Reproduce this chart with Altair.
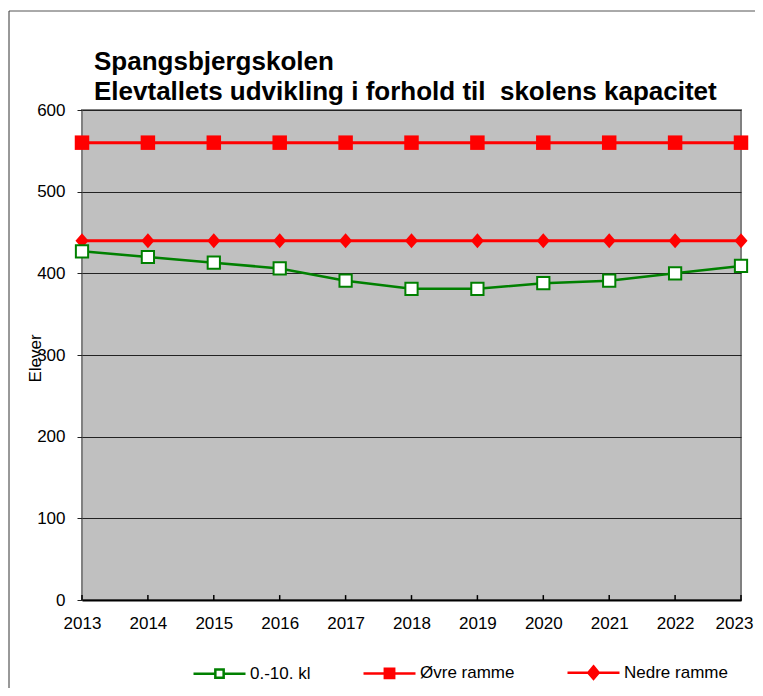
import altair as alt
import pandas as pd

# ---- data ----
years = [2013, 2014, 2015, 2016, 2017, 2018, 2019, 2020, 2021, 2022, 2023]
elever = [427, 420, 413, 406, 391, 381, 381, 388, 391, 400, 409]
ovre_ramme = [560, 560, 560, 560, 560, 560, 560, 560, 560, 560, 560]
nedre_ramme = [440, 440, 440, 440, 440, 440, 440, 440, 440, 440, 440]
series_names = ["0.-10. kl", "Øvre ramme", "Nedre ramme"]
y_ticks = [0, 100, 200, 300, 400, 500, 600]
title_lines = ["Spangsbjergskolen", "Elevtallets udvikling i forhold til\u00a0 skolens kapacitet"]
y_title = "Elever"

# ---- styles ----
FONT = "Liberation Sans"
GREEN = "#008000"
RED = "#FF0000"
series_colors = [GREEN, RED, RED]
legend_fills = ["white", RED, RED]
legend_paths = [
    "M-1,0H-0.16M0.16,0H1M-0.16,-0.16H0.16V0.16H-0.16Z",
    "M-1,0H1M-0.18,-0.18H0.18V0.18H-0.18Z",
    "M-1,0H1M0,-0.24L0.2,0L0,0.24L-0.2,0Z",
]
DIAMOND = "M0,-1L0.87,0L0,1L-0.87,0Z"

df_el = pd.DataFrame({"year": years, "value": elever})
df_ov = pd.DataFrame({"year": years, "value": ovre_ramme})
df_ne = pd.DataFrame({"year": years, "value": nedre_ramme})
df_ticks = pd.DataFrame({"year": years})
df_leg = pd.DataFrame({"lg": series_names, "year": [years[0]] * 3, "value": [0] * 3})

x_scale = alt.Scale(domain=[years[0], years[-1]], nice=False, zero=False)
y_scale = alt.Scale(domain=[0, 600], nice=False)

x_axis = alt.Axis(
    values=years, format="d", title=None, grid=False, ticks=False,
    labelFontSize=17, labelFont=FONT, labelColor="black", labelPadding=15,
    labelFlush=False, labelOverlap=False, domainColor="black", domainWidth=2,
    labelOffset={"condition": {"test": f"datum.value == {years[-1]}", "value": -7}, "value": 0},
)
y_axis = alt.Axis(
    values=y_ticks, title=y_title, grid=True, gridColor="#222222", gridWidth=1,
    tickSize=5, tickColor="#222222", tickWidth=1, domain=False,
    labelFontSize=17, labelFont=FONT, labelColor="black", labelPadding=12,
    titleFontSize=17, titleFont=FONT, titleFontWeight="normal", titleColor="black",
    titleX=-42, titleY=248, titleBaseline="alphabetic", titleAlign="center", titleAngle=270,
)

X = alt.X("year:Q", scale=x_scale, axis=x_axis)
Y = alt.Y("value:Q", scale=y_scale, axis=y_axis)

one = alt.Data(values=[{"a": 1}])
frame_top = alt.Chart(one).mark_rule(color="#555555", strokeWidth=1).encode(
    x=alt.value(-73), x2=alt.value(720), y=alt.value(-99)
)
frame_left = alt.Chart(one).mark_rule(color="#333333", strokeWidth=1).encode(
    x=alt.value(-73), y=alt.value(-99), y2=alt.value(700)
)

inner_ticks = alt.Chart(df_ticks).mark_rule(color="black", strokeWidth=1.5).encode(
    x=X, y=alt.datum(0), y2=alt.datum(6)
)

ne_line = alt.Chart(df_ne).mark_line(color=RED, strokeWidth=3).encode(x=X, y=Y)
ne_pts = alt.Chart(df_ne).mark_point(
    shape=DIAMOND, filled=True, fill=RED, color=RED, size=225, opacity=1
).encode(x=X, y=Y)

ov_line = alt.Chart(df_ov).mark_line(color=RED, strokeWidth=3).encode(x=X, y=Y)
ov_pts = alt.Chart(df_ov).mark_point(
    shape="square", filled=True, fill=RED, color=RED, size=210, opacity=1
).encode(x=X, y=Y)

el_line = alt.Chart(df_el).mark_line(color=GREEN, strokeWidth=2.5).encode(x=X, y=Y)
el_pts = alt.Chart(df_el).mark_point(
    shape="square", fill="white", stroke=GREEN, strokeWidth=2, size=150, opacity=1
).encode(x=X, y=Y)

leg = alt.Legend(
    title=None, orient="none", legendX=110, legendY=535, direction="horizontal",
    symbolSize=2704, symbolStrokeWidth=2.5, labelFontSize=17, labelFont=FONT,
    labelColor="black", labelOffset=3, columnPadding=47, symbolOpacity=1,
)
legend_layer = alt.Chart(df_leg).transform_filter("false").mark_point(opacity=1).encode(
    x=X, y=Y,
    shape=alt.Shape("lg:N", scale=alt.Scale(domain=series_names, range=legend_paths), legend=leg),
    fill=alt.Fill("lg:N", scale=alt.Scale(domain=series_names, range=legend_fills), legend=leg),
    stroke=alt.Stroke("lg:N", scale=alt.Scale(domain=series_names, range=series_colors), legend=leg),
)

chart = alt.layer(
    frame_top, frame_left, inner_ticks, ne_line, ov_line, el_line,
    ne_pts, ov_pts, el_pts, legend_layer
).properties(
    width=659, height=490,
    title=alt.TitleParams(
        text=title_lines, anchor="start", dx=12, fontSize=26, font=FONT,
        fontWeight="bold", color="black", lineHeight=30, offset=-94, frame="group",
    ),
    autosize=alt.AutoSizeParams(type="none"),
    padding={"left": 74, "top": 102, "right": 14, "bottom": 88},
    background="white",
).configure_view(
    fill="#C0C0C0", stroke="#808080", strokeWidth=2
)

chart.save("out.html", embed_options={"renderer": "svg", "actions": False})
